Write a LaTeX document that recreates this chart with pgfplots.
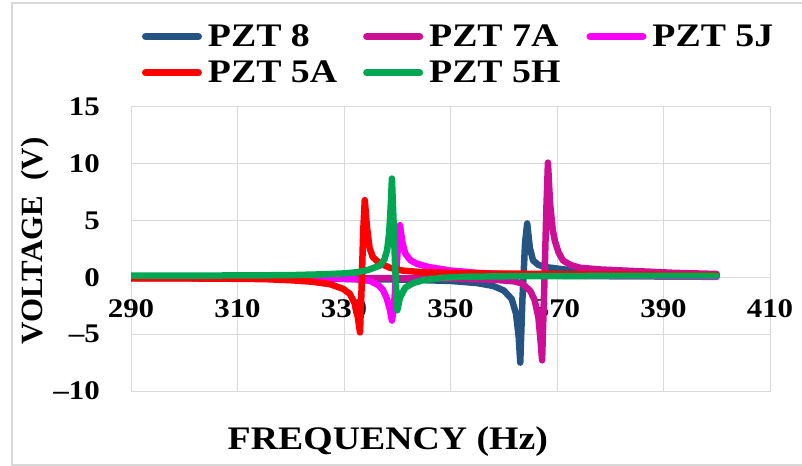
\documentclass[border=0pt]{standalone}
\usepackage{fontspec}
\setmainfont{Liberation Serif}
\newfontfamily\wide{Liberation Serif}[FakeStretch=1.15]
\usepackage{pgfplots}
\pgfplotsset{compat=1.18}

\definecolor{cEight}{RGB}{38,84,130}
\definecolor{cSevenA}{RGB}{204,16,150}
\definecolor{cFiveJ}{RGB}{250,0,250}
\definecolor{cFiveA}{RGB}{255,0,0}
\definecolor{cFiveH}{RGB}{0,166,81}
\definecolor{gridgray}{RGB}{217,217,217}

\begin{document}
\begin{tikzpicture}
\path[use as bounding box] (0bp,0bp) rectangle (802bp,466bp);
\draw[gridgray, line width=1.5bp] (802bp,1bp) -- (12bp,1bp) -- (12bp,463bp) -- (802bp,463bp);

\begin{axis}[
    at={(131bp,75bp)}, anchor=south west,
    scale only axis, width=639bp, height=284bp,
    xmin=290, xmax=410, ymin=-10, ymax=15,
    xtick={290,310,...,410},
    xticklabels={290,310,330,350,370,390,410},
    ytick={-10,-5,0,5,10,15},
    yticklabels={–10,–5,0,5,10,15},
    grid=major,
    grid style={draw=gridgray, line width=1bp},
    axis line style={draw=gridgray, line width=1bp},
    major tick length=0pt,
    tick label style={font=\wide\bfseries\fontsize{27}{32}\selectfont, inner sep=0pt},
    xticklabel style={anchor=base, yshift=73bp},
    yticklabel style={anchor=east, xshift=-31bp},
    xlabel={FREQUENCY (Hz)},
    ylabel={VOLTAGE\ \ (V)},
    every axis x label/.style={at={(axis description cs:0.402,0)}, anchor=base, yshift=-58bp,
        font=\wide\bfseries\fontsize{33}{40}\selectfont},
    every axis y label/.style={at={(axis description cs:-0.150,0.528)}, anchor=center, rotate=90,
        font=\bfseries\fontsize{31}{38}\selectfont},
    legend columns=3,
    legend cell align=left,
    legend style={draw=none, fill=none, inner sep=0pt, outer sep=0pt,
        at={(axis description cs:0.0172,1.289)}, anchor=north west,
        font=\wide\bfseries\fontsize{33}{40}\selectfont,
        nodes={inner sep=0pt},
        row sep=13bp,
        /tikz/every odd column/.append style={column sep=6bp},
        /tikz/every even column/.append style={column sep=26bp}},
    legend image code/.code={\draw[#1, line width=7bp, line cap=round] (3.5bp,0bp) -- (56.5bp,0bp);},
    every axis plot/.append style={line width=6.5bp, line join=round, line cap=round},
]

% PZT 8
\addplot[cEight] coordinates {
(290,-0.06) (320,-0.1) (340,-0.18) (350,-0.31) (355,-0.5) (358,-0.75) (360,-1.15)
(361.5,-1.9) (362.3,-3.2) (362.8,-5.2) (363.1,-7.5) (363.5,-2) (364.0,3.0) (364.4,4.75)
(364.9,2.6) (365.5,1.5) (366.5,1.1) (368,0.9) (370.5,0.75) (375,0.5) (380,0.35)
(390,0.2) (400,0.15)
};
% PZT 7A
\addplot[cSevenA] coordinates {
(290,0.0) (330,-0.05) (350,-0.1) (358,-0.2) (362,-0.35) (363.5,-0.55) (365,-1.2)
(365.8,-2.0) (366.5,-3.5) (366.9,-5.5) (367.2,-7.3) (367.6,-1) (368.0,6) (368.3,10.1)
(368.7,6.5) (369.2,4.2) (369.6,3.2) (370.3,2.2) (371.1,1.5) (372.5,1.1) (374.3,0.85)
(378,0.7) (385,0.55) (392,0.4) (400,0.3)
};
% PZT 5J
\addplot[cFiveJ] coordinates {
(290,0) (320,-0.03) (328,-0.08) (332,-0.15) (334.9,-0.3) (336.5,-0.7) (337.3,-1.1)
(338.0,-1.8) (338.6,-2.8) (339.0,-3.8) (339.4,-2.5) (339.8,0.5) (340.2,3.2) (340.5,4.6)
(341.0,3.0) (341.5,2.1) (342.5,1.5) (343.7,1.2) (346,0.9) (350,0.6) (355,0.4)
(362,0.25) (370,0.15) (380,0.1) (400,0.05)
};
% PZT 5A
\addplot[cFiveA] coordinates {
(290,-0.08) (305,-0.1) (315,-0.15) (320,-0.25) (324,-0.38) (327.4,-0.6) (329.8,-1.0)
(331.1,-1.45) (332.0,-2.3) (332.6,-3.5) (333.0,-4.84) (333.3,-1) (333.6,4) (333.9,6.8)
(334.3,4.5) (334.8,2.6) (335.4,1.8) (336.5,1.3) (338.6,0.85) (341,0.6) (344.8,0.45)
(355,0.35) (370,0.3) (385,0.25) (400,0.2)
};
% PZT 5H
\addplot[cFiveH] coordinates {
(290,0.15) (310,0.17) (320,0.2) (326,0.27) (330,0.35) (332.4,0.45) (334.5,0.65)
(336.8,1.05) (337.6,1.6) (338.1,2.4) (338.5,4.0) (338.8,6.5) (339.0,8.7) (339.3,5)
(339.6,1) (340.0,-2.9) (340.5,-1.8) (341.5,-0.9) (343,-0.5) (344.8,-0.25) (348,-0.05)
(352,0.05) (360,0.1) (380,0.13) (400,0.13)
};

\legend{PZT 8, PZT 7A, PZT 5J, PZT 5A, PZT 5H}
\end{axis}
\end{tikzpicture}
\end{document}
